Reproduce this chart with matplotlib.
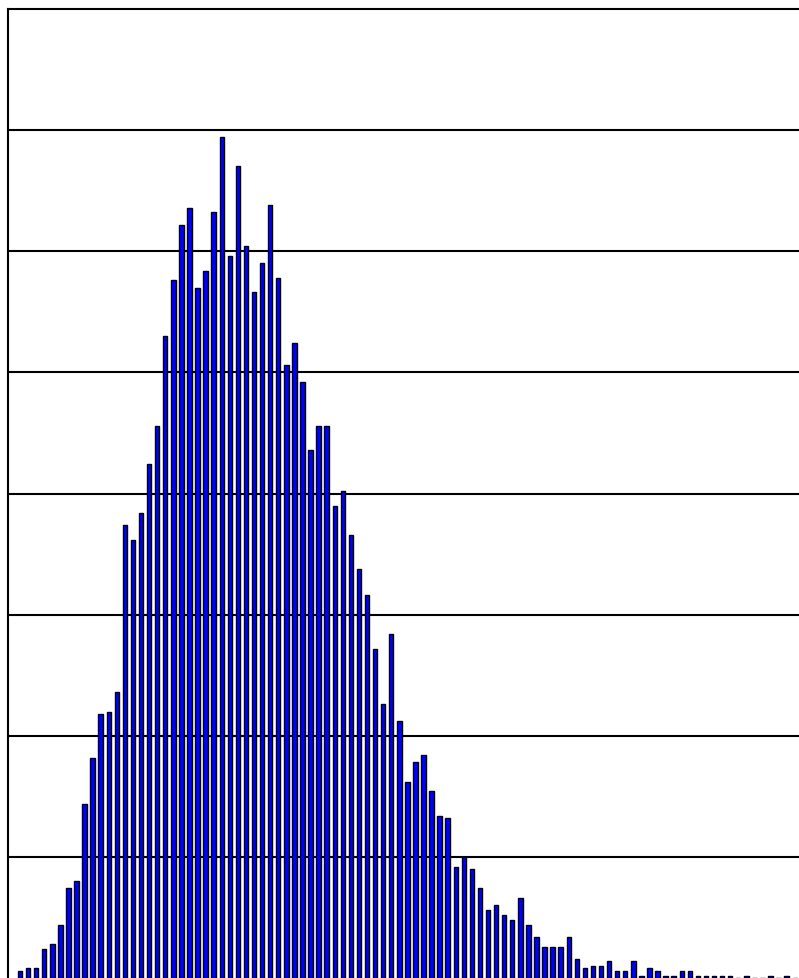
import numpy as np
import matplotlib.pyplot as plt

# bin counts, left to right
counts = [3, 4, 4, 12, 14, 22, 37, 40, 72, 91,
          109, 110, 118, 187, 181, 192, 212, 228, 265, 288,
          311, 318, 285, 292, 316, 347, 298, 335, 302, 283,
          295, 319, 289, 253, 262, 246, 218, 228, 228, 195,
          201, 183, 169, 158, 136, 113, 142, 106, 81, 89,
          92, 77, 67, 66, 46, 50, 45, 37, 28, 30,
          26, 24, 33, 22, 17, 13, 13, 13, 17, 8,
          4, 5, 5, 7, 3, 3, 7, 1, 4, 3,
          1, 1, 3, 3, 1, 1, 1, 1, 1, 0,
          1, 0, 0, 1, 0, 1, 0]
grid_ticks = [50, 100, 150, 200, 250, 300, 350]

bins = np.arange(len(counts))

W, H = 799, 979
fig = plt.figure(figsize=(W / 100, H / 100), dpi=100)
# axes run past the right and bottom edges of the picture
ax = fig.add_axes([8.3 / W, 0, 807 / W, 969 / H])

ax.bar(bins, counts, width=0.55, color='#0000ff', edgecolor='black',
       linewidth=1.0, zorder=2)

ax.set_xlim(-1.45, 98.55)
ax.set_ylim(0, 400)
ax.set_yticks(grid_ticks)
ax.set_xticks([])
ax.yaxis.grid(True, color='black', linewidth=1.5)
ax.set_axisbelow(True)
ax.tick_params(left=False, labelleft=False)

for s in ('left', 'top'):
    ax.spines[s].set_linewidth(1.5)
for s in ('right', 'bottom'):
    ax.spines[s].set_visible(False)

fig.savefig('out.png', dpi=100)
